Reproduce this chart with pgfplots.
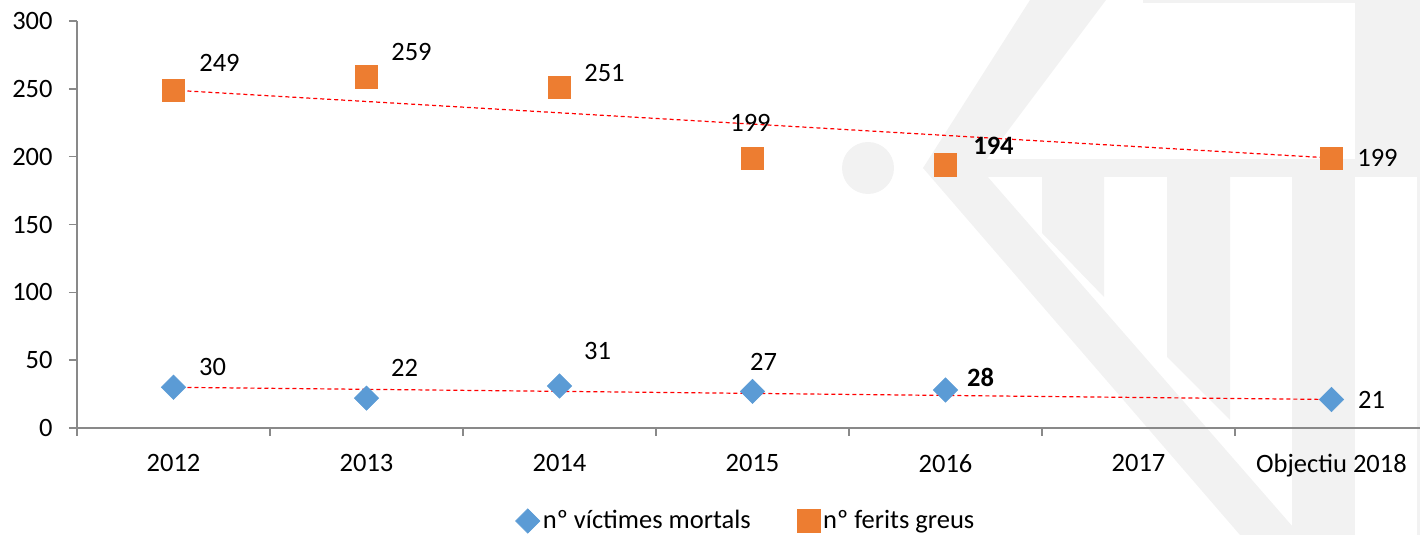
\documentclass[border=0pt]{standalone}
\usepackage{fontspec}
\setmainfont{Carlito}
\usepackage{pgfplots}
\pgfplotsset{compat=1.18}
\definecolor{cblue}{HTML}{5B9BD5}
\definecolor{corange}{HTML}{ED7D31}
\definecolor{wm}{HTML}{F2F2F2}
\definecolor{axgray}{HTML}{898989}
\begin{document}
\begin{tikzpicture}[font=\fontsize{13.25}{16}\selectfont]
\useasboundingbox (-38.5pt,-53.5pt) rectangle (671.5pt,214pt);
% watermark (pixel coordinates of the reference)
\begin{scope}[x=0.5pt,y=-0.5pt,shift={(-38.5pt,214pt)}]
  \fill[wm] (868,168) circle (26);
  \fill[wm] (1030,0) -- (1106,0) -- (980,168) -- (1300,535) -- (1240,535) -- (923,168) -- cycle;
  \fill[wm] (980,159) rectangle (1420,177);
  \fill[wm] (1042,177) -- (1104,177) -- (1104,297) -- (1042,233) -- cycle;
  \fill[wm] (1167,177) -- (1230,177) -- (1230,420) -- (1167,357) -- cycle;
  \fill[wm] (1292,177) rectangle (1355,535);
  \fill[wm] (1355,0) rectangle (1420,159);
  \fill[wm] (1417,177) rectangle (1420,535);
  \fill[wm] (1143,0) rectangle (1355,3);
\end{scope}
\begin{axis}[
  at={(0,0)}, anchor=south west,
  scale only axis, width=675.5pt, height=203.5pt,
  xmin=-0.5, xmax=6.5, ymin=0, ymax=300,
  axis x line=bottom, axis y line=left,
  axis line style={-, axgray, line width=0.75pt},
  ytick={0,50,...,300},
  xtick={0,...,6},
  xticklabels={2012,2013,2014,2015,2016,2017,Objectiu 2018},
  minor xtick={-0.5,0.5,...,6.5},
  tick align=outside,
  major tick length=4pt, minor tick length=4pt,
  tick style={axgray, line width=0.75pt},
  major x tick style={draw=none},
  /pgf/number format/assume math mode=true,
  yticklabel style={inner sep=0pt, xshift=-8pt},
  xticklabel style={inner sep=0pt, yshift=-9pt},
  clip=false,
  legend style={at={(0.4955,-0.2285)}, anchor=center, draw=none, fill=none,
    legend columns=2, /tikz/every even column/.append style={column sep=22pt},
    nodes={inner sep=1.5pt}},
  legend image code/.code={\draw[#1] plot coordinates {(0pt,0pt)};},
]
\addplot[only marks, mark=square*, mark size=4.3pt,
  mark options={rotate=45, fill=cblue, draw=cblue, line width=0.3pt}]
  coordinates {(0,30) (1,22) (2,31) (3,27) (4,28) (6,21)};
\addlegendentry{nº víctimes mortals}
\addplot[only marks, mark=square*, mark size=5.6pt,
  mark options={fill=corange, draw=corange, line width=0.3pt, rounded corners=1.5pt}]
  coordinates {(0,249) (1,259) (2,251) (3,199) (4,194) (6,199)};
\addlegendentry{nº ferits greus}
\addplot[red, dash pattern=on 2pt off 1.5pt, line width=0.6pt, forget plot]
  coordinates {(0,249) (6,199)};
\addplot[red, dash pattern=on 2pt off 1.5pt, line width=0.6pt, forget plot]
  coordinates {(0,30) (6,21)};
% data labels
\node[xshift=23pt, yshift=13.5pt] at (axis cs:0,249) {249};
\node[xshift=22.5pt, yshift=12.5pt] at (axis cs:1,259) {259};
\node[xshift=22.5pt, yshift=7pt] at (axis cs:2,251) {251};
\node[xshift=-1pt, yshift=17.5pt] at (axis cs:3,199) {199};
\node[xshift=24pt, yshift=9.5pt] at (axis cs:4,194) {\bfseries 194};
\node[xshift=23pt, yshift=0pt] at (axis cs:6,199) {199};
\node[xshift=19.5pt, yshift=10pt] at (axis cs:0,30) {30};
\node[xshift=19pt, yshift=15pt] at (axis cs:1,22) {22};
\node[xshift=19pt, yshift=17.5pt] at (axis cs:2,31) {31};
\node[xshift=5.5pt, yshift=14.5pt] at (axis cs:3,27) {27};
\node[xshift=17.5pt, yshift=6.5pt] at (axis cs:4,28) {\bfseries 28};
\node[xshift=20pt, yshift=0pt] at (axis cs:6,21) {21};
\end{axis}
\end{tikzpicture}
\end{document}
